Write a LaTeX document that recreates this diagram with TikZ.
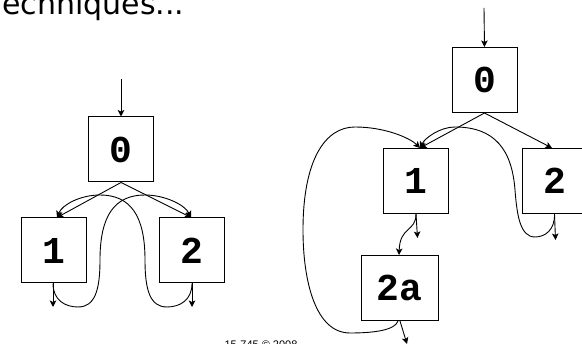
\documentclass[tikz,border=0pt]{standalone}
\usepackage{fontspec}
\setmainfont{DejaVu Sans}
\newfontfamily\boxfont{Liberation Mono}
\newfontfamily\notefont{Liberation Sans}
\usetikzlibrary{arrows.meta,calc}
\begin{document}
\begin{tikzpicture}[x=1pt,y=-1pt,
  blk/.style={draw,line width=1pt,inner sep=0pt,minimum width=65pt,minimum height=65pt,
    font=\boxfont\bfseries\fontsize{38}{38}\selectfont},
  flow/.style={line width=0.9pt,-{Stealth[length=6.5pt,width=6.5pt,inset=1.5pt]}}]
\useasboundingbox (0,0) rectangle (582,344);

% heading, partly above the page edge
\node[anchor=base west,inner sep=0pt,font=\fontsize{30}{30}\selectfont] (title) at (2,15) {echniques...};
% footer, partly below the page edge
\node[anchor=north,inner sep=0pt,font=\notefont\fontsize{11}{11}\selectfont] (note) at (261,340.5) {15-745 \copyright\ 2008};

% ---- left graph ----
\node[blk] (L0) at (121,149.5) {0};
\node[blk] (L1) at (53.5,250.5) {1};
\node[blk] (L2) at (192,250.5) {2};
\coordinate (Lin) at (121,79);
\coordinate (L1out) at (53,307);
\coordinate (L2out) at (192,307);

\draw[flow] (Lin) -- (L0.north);
\draw[flow] (L0.south) -- ($(L1.north)+(3.5,0)$);
\draw[flow] (L0.south) -- ($(L2.north)+(-1,0)$);
\draw[flow] ($(L1.south)+(-0.5,0)$) -- (L1out);
\draw[flow] (L2.south) -- (L2out);
% 1 -> 2 and 2 -> 1 crossing loops
\draw[flow] ($(L1.south)+(-0.5,0)$) .. controls (53,300) and (65,307) .. (78,307)
  .. controls (95,307) and (100,290) .. (100,260)
  .. controls (100,215) and (115,195) .. (145,195)
  .. controls (165,195) and (185,205) .. ($(L2.north)+(-1,0)$);
\draw[flow] (L2.south) .. controls (192,300) and (180,307) .. (167,307)
  .. controls (150,307) and (145,290) .. (145,260)
  .. controls (145,215) and (130,195) .. (100,195)
  .. controls (80,195) and (62,205) .. ($(L1.north)+(3.5,0)$);

% ---- right graph ----
\node[blk] (R0) at (484.5,80) {0};
\node[blk] (R1) at (416,181) {1};
\node[blk] (R2) at (554.5,181) {2};
\node[blk,minimum width=77pt] (R2a) at (399.5,288) {2a};
\coordinate (Rin) at (484,8);
\coordinate (R1out) at (417.5,238);
\coordinate (R2out) at (555.5,240);
\coordinate (R2aout) at (407,344);

\draw[flow] (Rin) -- (R0.north);
\draw[flow] (R0.south) -- ($(R1.north)+(4,0)$);
\draw[flow] (R0.south) -- ($(R2.north)+(-2.5,0)$);
\draw[flow] (R1.south) -- (R1out);
\draw[flow] (R2.south) -- (R2out);
\draw[flow] (R1.south) .. controls (416,232) and (400,226) .. ($(R2a.north)+(-0.5,0)$);
\draw[flow] ($(R2a.south)+(0.5,0)$) -- (R2aout);
% 2 -> 1 loop over the top
\draw[flow] (R2.south) .. controls (555,230) and (545,237) .. (535,237)
  .. controls (520,237) and (517,215) .. (515,190)
  .. controls (512,150) and (495,127) .. (455,127)
  .. controls (440,127) and (425,138) .. ($(R1.north)+(4,0)$);
% 2a -> 1 loop around the left side
\draw[flow] ($(R2a.south)+(-1.5,0)$) .. controls (395,330) and (375,333) .. (350,333)
  .. controls (315,333) and (303,280) .. (303,230)
  .. controls (303,160) and (325,127) .. (355,127)
  .. controls (385,127) and (410,138) .. ($(R1.north)+(4,0)$);
\end{tikzpicture}
\end{document}
